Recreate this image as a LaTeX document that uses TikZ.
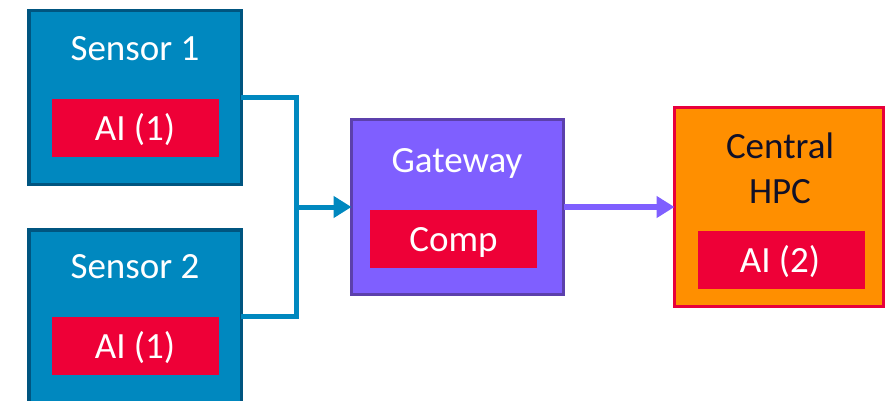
\documentclass[tikz,border=0pt]{standalone}
\usepackage{fontspec}
\setmainfont{Carlito}
\usetikzlibrary{arrows.meta}

\definecolor{sensorfill}{HTML}{0088BF}
\definecolor{sensorline}{HTML}{005580}
\definecolor{aired}{HTML}{EE0037}
\definecolor{gwfill}{HTML}{7F5FFF}
\definecolor{gwline}{HTML}{5C40AC}
\definecolor{hpcfill}{HTML}{FF8F00}
\definecolor{hpcline}{HTML}{E8003B}
\definecolor{hpctext}{HTML}{101028}

\begin{document}
\begin{tikzpicture}[x=1pt,y=-1pt,
  every node/.style={inner sep=0pt, outer sep=0pt},
  txt/.style={font=\fontsize{37}{44}\selectfont, anchor=base},
  sensorbox/.style={rectangle, fill=sensorfill, draw=sensorline, line width=3.5pt,
    minimum width=212.5pt, minimum height=173.5pt},
  gwbox/.style={rectangle, fill=gwfill, draw=gwline, line width=3pt,
    minimum width=212pt, minimum height=174pt},
  hpcbox/.style={rectangle, fill=hpcfill, draw=hpcline, line width=3pt,
    minimum width=209pt, minimum height=198pt},
  redbox/.style={rectangle, fill=aired, minimum width=167pt, minimum height=58pt},
  blueflow/.style={draw=sensorfill, line width=5pt, line join=miter},
  purpleflow/.style={draw=gwfill, line width=6pt,
    -{Triangle[length=18pt,width=21pt]}}
]
\useasboundingbox (0,0) rectangle (891,401);
\clip (0,0) rectangle (891,401);

% sensor units
\node[sensorbox] (s1) at (135,97.5) {};
\node[redbox] (s1ai) at (135.5,128) {};
\node[txt, text=white] (s1t) at (135,61) {Sensor 1};
\node[txt, text=white] (s1a) at (135,140) {AI (1)};

\node[sensorbox] (s2) at (135,316.5) {};
\node[redbox] (s2ai) at (135.5,346) {};
\node[txt, text=white] (s2t) at (135,278) {Sensor 2};
\node[txt, text=white] (s2a) at (135,358) {AI (1)};

% gateway
\node[gwbox] (gw) at (457.5,207) {};
\node[redbox] (gwc) at (453.5,239) {};
\node[txt, text=white] (gwt) at (457,172) {Gateway};
\node[txt, text=white] (gwa) at (453.5,251) {Comp};

% central HPC
\node[hpcbox] (hpc) at (779,207) {};
\node[redbox] (hpcai) at (781.5,260) {};
\node[txt, text=hpctext] (hpct1) at (780,158) {Central};
\node[txt, text=hpctext] (hpct2) at (780,203) {HPC};
\node[txt, text=white] (hpca) at (780,272) {AI (2)};

% sensor outputs merge and feed the gateway
\coordinate (merge) at (296,207);
\draw[blueflow] (s1.east) -| (merge);
\draw[blueflow] (s2.east) -| (merge);
\draw[blueflow, -{Triangle[length=18pt,width=21pt]}] (merge) -- (gw.west);

% gateway to central HPC
\draw[purpleflow] (gw.east) -- (hpc.west);
\end{tikzpicture}
\end{document}
